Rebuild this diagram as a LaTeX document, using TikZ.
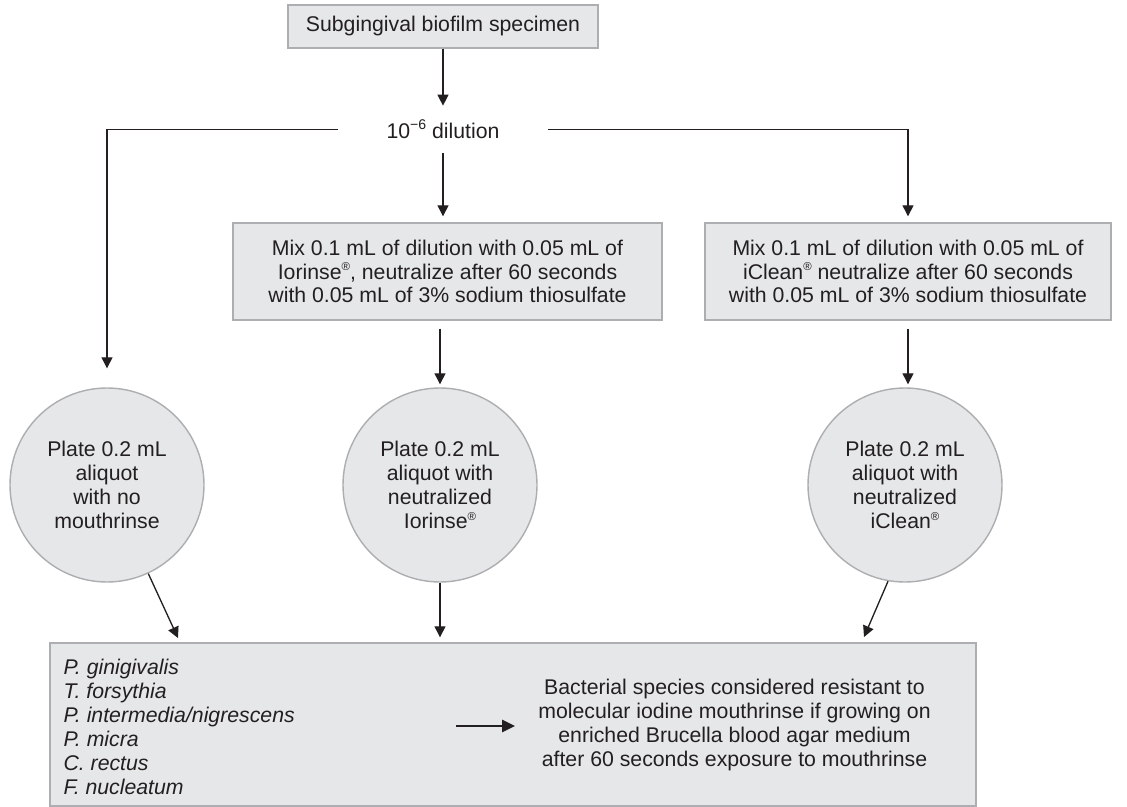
\documentclass[tikz,border=0pt]{standalone}
\usepackage{fontspec}
\setmainfont{Liberation Sans}
\usepackage{tikz}
\usetikzlibrary{arrows.meta,positioning,calc}
\definecolor{boxfill}{RGB}{230,231,232}
\definecolor{boxline}{RGB}{172,174,177}
\definecolor{ink}{RGB}{35,31,32}
\newcommand{\diagfont}{\fontsize{12.1}{13.6}\selectfont}
\newcommand{\reg}{\raisebox{0.75ex}{\fontsize{6.5}{6.5}\selectfont\textregistered}}

\begin{document}
\begin{tikzpicture}[
  font=\diagfont, text=ink,
  box/.style={draw=boxline, fill=boxfill, line width=0.8pt, align=center, inner sep=0pt},
  plate/.style={circle, draw=boxline, fill=boxfill, line width=0.8pt, align=center,
    minimum size=3.88cm, inner sep=0pt},
  specieslist/.style={font=\diagfont\itshape, align=left},
  flow/.style={-{Triangle[length=2.2mm,width=2.2mm]}, line width=0.75pt, draw=ink},
  thickflow/.style={-{Triangle[length=2.6mm,width=2.4mm]}, line width=1.4pt, draw=ink}
]
\useasboundingbox (0,0) rectangle (22.54,-16.14);

% Specimen and dilution.
\node[box, minimum width=6.2cm, minimum height=0.86cm] (specimen) at (8.86,-0.53)
  {Subgingival biofilm specimen};
\node[minimum width=4.18cm, minimum height=0.94cm, inner sep=0pt] (dilution) at (8.86,-2.59)
  {10\raisebox{0.8ex}{\fontsize{8}{8}\selectfont −6} dilution};

% Mouthrinse treatments.
\node[box, minimum width=8.58cm, minimum height=1.94cm] (mixI) at (8.95,-5.43)
  {Mix 0.1 mL of dilution with 0.05 mL of\\Iorinse\reg, neutralize after 60 seconds\\with 0.05 mL of 3\% sodium thiosulfate};
\node[box, minimum width=8.12cm, minimum height=1.94cm] (mixC) at (18.16,-5.43)
  {Mix 0.1 mL of dilution with 0.05 mL of\\iClean\reg{} neutralize after 60 seconds\\with 0.05 mL of 3\% sodium thiosulfate};

% Plating.
\node[plate] (plain) at (2.14,-9.70) {Plate 0.2 mL\\aliquot\\with no\\mouthrinse};
\node[plate] (plateI) at (8.80,-9.70) {Plate 0.2 mL\\aliquot with\\neutralized\\Iorinse\reg};
\node[plate] (plateC) at (18.10,-9.70) {Plate 0.2 mL\\aliquot with\\neutralized\\iClean\reg};

% Result panel.
\node[box, minimum width=18.52cm, minimum height=3.26cm] (result) at (10.26,-14.49) {};
\node[specieslist, anchor=east] (species) at (6.02,-14.54)
  {P. ginigivalis\\T. forsythia\\P. intermedia/nigrescens\\P. micra\\C. rectus\\F. nucleatum};
\node[align=center] (verdict) at (14.69,-14.50)
  {Bacterial species considered resistant to\\molecular iodine mouthrinse if growing on\\enriched Brucella blood agar medium\\after 60 seconds exposure to mouthrinse};

\draw[flow] (specimen) -- (dilution);
\draw[flow, shorten >=0.12cm] (dilution.south) -- (dilution.south |- mixI.north);
\draw[flow, shorten >=0.38cm] (dilution.west) -| (plain.north);
\draw[flow, shorten >=0.12cm] (dilution.east) -| (mixC.north);
\draw[flow, shorten <=0.16cm, shorten >=0.06cm] (mixI.south -| plateI.north) -- (plateI.north);
\draw[flow, shorten <=0.16cm, shorten >=0.06cm] (mixC.south) -- (mixC.south |- plateC.north);

% Plates onto the result panel.
\coordinate (landplain) at (3.56,-12.76);
\coordinate (landC) at (17.28,-12.74);
\draw[flow] (plain.-65) -- (landplain);
\draw[flow, shorten >=0.1cm] (plateI.south) -- (plateI.south |- result.north);
\draw[flow] (plateC.-100) -- (landC);

\coordinate (tail) at (9.12,-14.52);
\draw[thickflow, shorten >=0.34cm] (tail) -- (tail -| verdict.west);

\end{tikzpicture}
\end{document}
